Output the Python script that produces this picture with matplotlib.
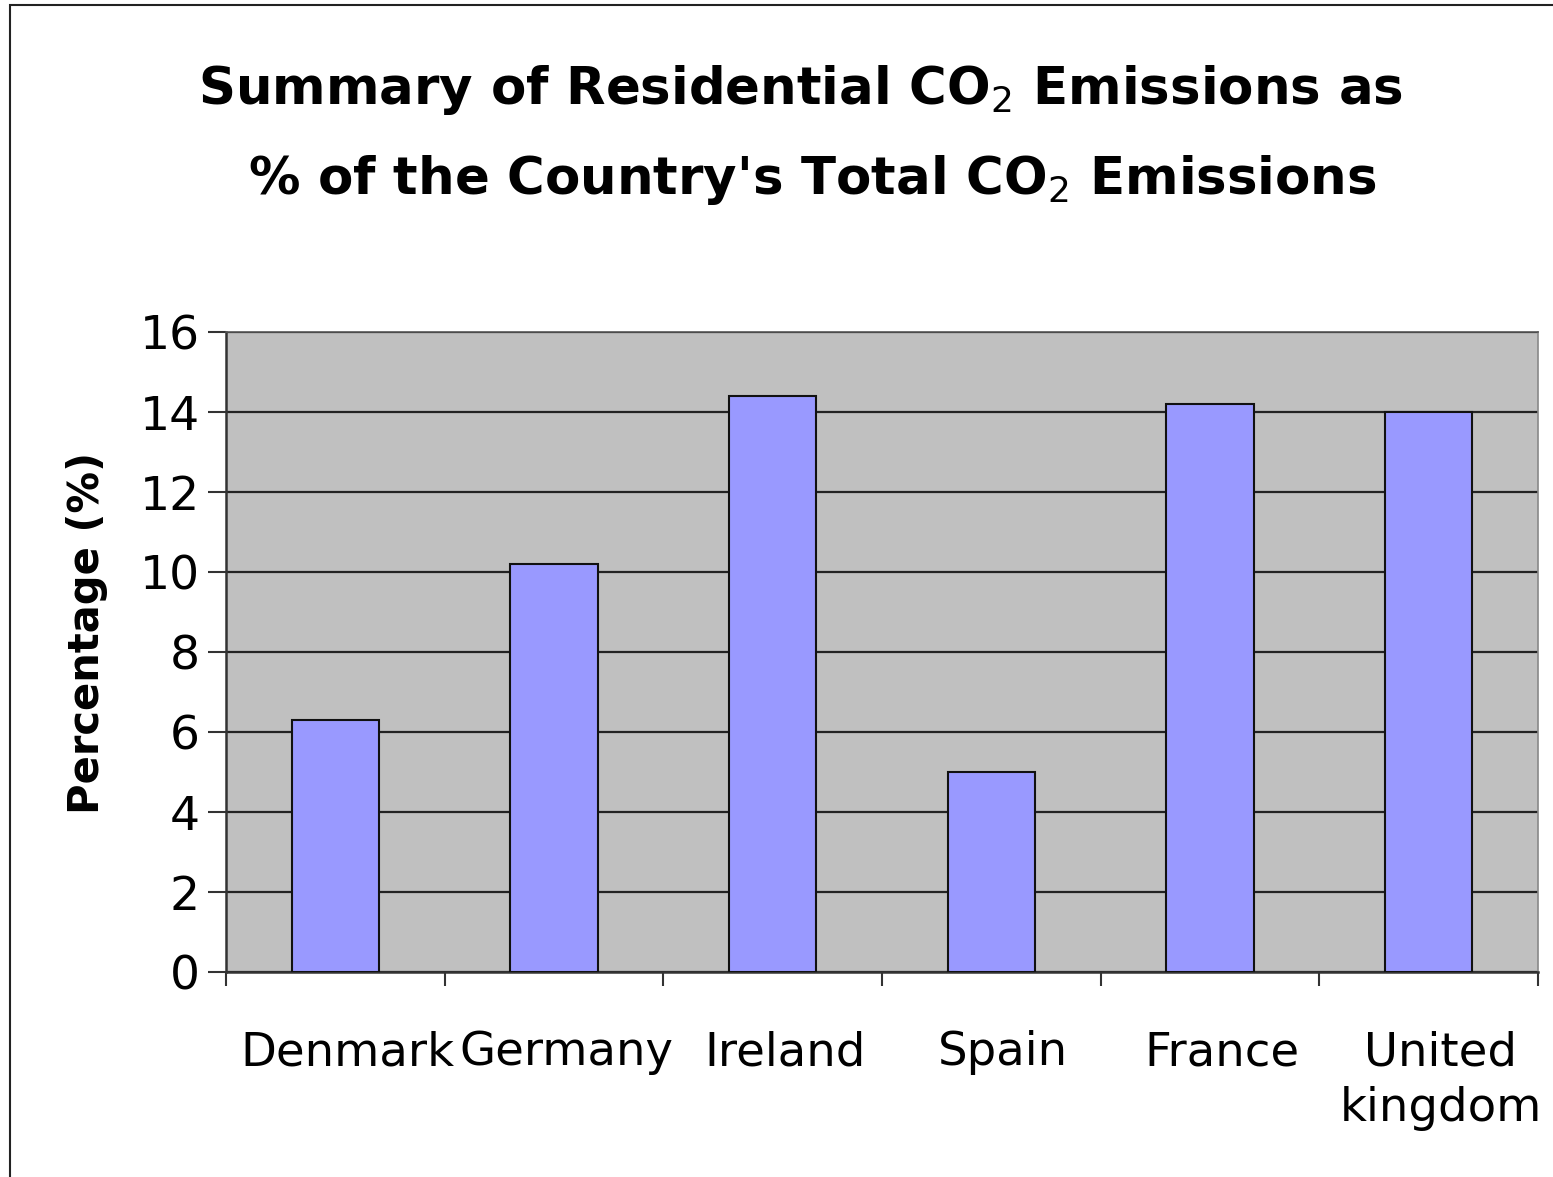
import matplotlib
matplotlib.use("Agg")
import matplotlib.pyplot as plt
import matplotlib.transforms as mtransforms
from matplotlib.patches import Rectangle
import numpy as np

countries = ["Denmark", "Germany", "Ireland", "Spain", "France", "United\nkingdom"]
values = [6.3, 10.2, 14.4, 5.0, 14.2, 14.0]
yticks = [0, 2, 4, 6, 8, 10, 12, 14, 16]

W, H = 1553, 1177
fig = plt.figure(figsize=(W / 100, H / 100), dpi=100)
fig.patch.set_facecolor("white")

# outer frame of the chart
fig.patches.append(Rectangle((10 / W, -0.01), 1.2, 1 - 5 / H + 0.01, transform=fig.transFigure,
                             fill=False, edgecolor="#222222", linewidth=1.5))

ax = fig.add_axes([226 / W, (H - 972) / H, (1538 - 226) / W, (972 - 332) / H])
ax.set_facecolor("#c0c0c0")

x = np.arange(len(countries))
ax.bar(x, values, width=0.4, color="#9999ff", edgecolor="#111111", linewidth=1.5, zorder=3)

ax.set_xlim(-0.5, len(countries) - 0.5)
ax.set_ylim(0, 16)
ax.set_yticks(yticks)
ax.yaxis.grid(True, color="#222222", linewidth=1.6, zorder=1)
ax.set_axisbelow(True)

ax.set_xticks(x)
ax.set_xticklabels(countries, fontsize=33.5)
ax.set_xticks(np.arange(-0.5, len(countries)), minor=True)
ax.tick_params(axis="x", which="major", length=0, pad=42)
ax.tick_params(axis="x", which="minor", length=10, width=1.5, color="#333333", direction="out")
ax.tick_params(axis="y", which="major", length=13, width=1.5, color="#333333", labelsize=34, pad=6)
offset = mtransforms.ScaledTranslation(0.12, 0, fig.dpi_scale_trans)
for lab in ax.get_xticklabels():
    lab.set_horizontalalignment("center")
    lab.set_linespacing(1.3)
    lab.set_transform(lab.get_transform() + offset)

for side in ["left", "bottom"]:
    ax.spines[side].set_color("#333333")
    ax.spines[side].set_linewidth(1.8)
ax.spines["top"].set_color("#555555")
ax.spines["top"].set_linewidth(1.2)
ax.spines["right"].set_color("#888888")
ax.spines["right"].set_linewidth(1.2)

ax.set_ylabel("Percentage (%)", fontsize=30, fontweight="bold")
ax.yaxis.set_label_coords(-0.09, 0.53)

fig.text(800 / W, 1 - 90 / H, "Summary of Residential CO$_2$ Emissions as", ha="center", va="center",
         fontsize=37, fontweight="bold")
fig.text(812 / W, 1 - 180 / H, "% of the Country's Total CO$_2$ Emissions", ha="center", va="center",
         fontsize=37, fontweight="bold")

fig.savefig("out.png", dpi=100)
